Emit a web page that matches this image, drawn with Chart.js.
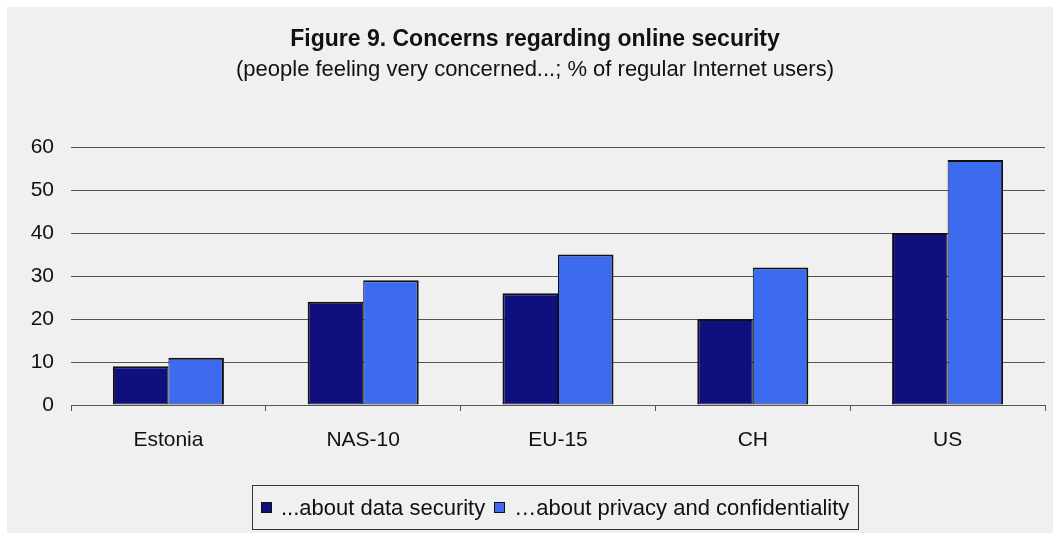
<!DOCTYPE html>
<html>
<head>
<meta charset="utf-8">
<title>Concerns regarding online security</title>
<script src="https://cdn.jsdelivr.net/npm/chart.js@4"></script>
<style>
  html, body { margin: 0; padding: 0; background: #fff; overflow: hidden; }
  #wrap { position: absolute; left: 7px; top: 7px; width: 1046px; height: 526px; background: #f0f0f0; overflow: hidden; }
  #chart { display: block; }
  #legend {
    position: absolute; left: 245px; top: 478px; width: 607px; height: 45px;
    box-sizing: border-box; border: 1px solid #333; padding-left: 8px;
    display: flex; align-items: center;
    font: 22px "Liberation Sans", Arial, sans-serif; color: #111; white-space: nowrap;
  }
  #legend .item { display: flex; align-items: center; margin-right: 9px; }
  #legend .box { width: 11px; height: 11px; box-sizing: border-box; border: 1px solid #111; margin-right: 9px; }
</style>
</head>
<body>
<div id="wrap">
  <canvas id="chart" width="1056" height="526"></canvas>
  <div id="legend"></div>
</div>
<script>
// categories and series
const categories = ['Estonia', 'NAS-10', 'EU-15', 'CH', 'US'];
const seriesLabels = ['...about data security', '\u2026about privacy and confidentiality'];
const dataSecurity = [9, 24, 26, 20, 40];
const privacyConfidentiality = [11, 29, 35, 32, 57];
const yTicks = [0, 10, 20, 30, 40, 50, 60];

const FONT = '"Liberation Sans", Arial, sans-serif';

const chart = new Chart(document.getElementById('chart'), {
    type: 'bar',
    data: {
        labels: categories,
        datasets: [{
            label: seriesLabels[0],
            data: dataSecurity,
            backgroundColor: '#0f0f7e',
            borderColor: '#111',
            borderWidth: { top: 2, left: 2, right: 1, bottom: 1 },
            borderSkipped: false
        }, {
            label: seriesLabels[1],
            data: privacyConfidentiality,
            backgroundColor: '#3d6bf0',
            borderColor: '#111',
            borderWidth: { top: 2, left: 1, right: 2, bottom: 1 },
            borderSkipped: false
        }]
    },
    options: {
        responsive: false,
        animation: false,
        // symmetric side padding on a canvas wider than the grey panel,
        // so the titles centre a little right of the panel centre
        layout: { padding: { left: 18, right: 18, top: 0, bottom: 0 } },
        datasets: { bar: { categoryPercentage: 0.57, barPercentage: 1 } },
        plugins: {
            legend: { display: false },
            tooltip: { enabled: false },
            title: {
                display: true,
                text: 'Figure 9. Concerns regarding online security',
                color: '#111',
                font: { family: FONT, size: 23, weight: 'bold' },
                padding: { top: 19, bottom: 3 }
            },
            subtitle: {
                display: true,
                text: '(people feeling very concerned...; % of regular Internet users)',
                color: '#111',
                font: { family: FONT, size: 22 },
                padding: { top: 0, bottom: 64 }
            }
        },
        scales: {
            x: {
                grid: { drawOnChartArea: false, tickLength: 6, color: '#555', offset: true },
                border: { color: '#555' },
                ticks: { color: '#111', font: { family: FONT, size: 21 }, padding: 17 },
                afterFit: s => { s.height = 128; }
            },
            y: {
                min: 0,
                max: 60,
                afterBuildTicks: s => { s.ticks = yTicks.map(v => ({ value: v })); },
                ticks: { color: '#111', font: { family: FONT, size: 21 }, padding: 17 },
                grid: { drawTicks: false, color: '#555' },
                border: { display: false },
                afterFit: s => { s.width = 46; }
            }
        }
    }
});

// legend built from the chart's own dataset labels
const legendEl = document.getElementById('legend');
chart.options.plugins.legend.labels.generateLabels(chart).forEach(item => {
    const el = document.createElement('span');
    el.className = 'item';
    const box = document.createElement('span');
    box.className = 'box';
    box.style.background = item.fillStyle;
    el.appendChild(box);
    el.appendChild(document.createTextNode(item.text));
    legendEl.appendChild(el);
});
</script>
</body>
</html>
